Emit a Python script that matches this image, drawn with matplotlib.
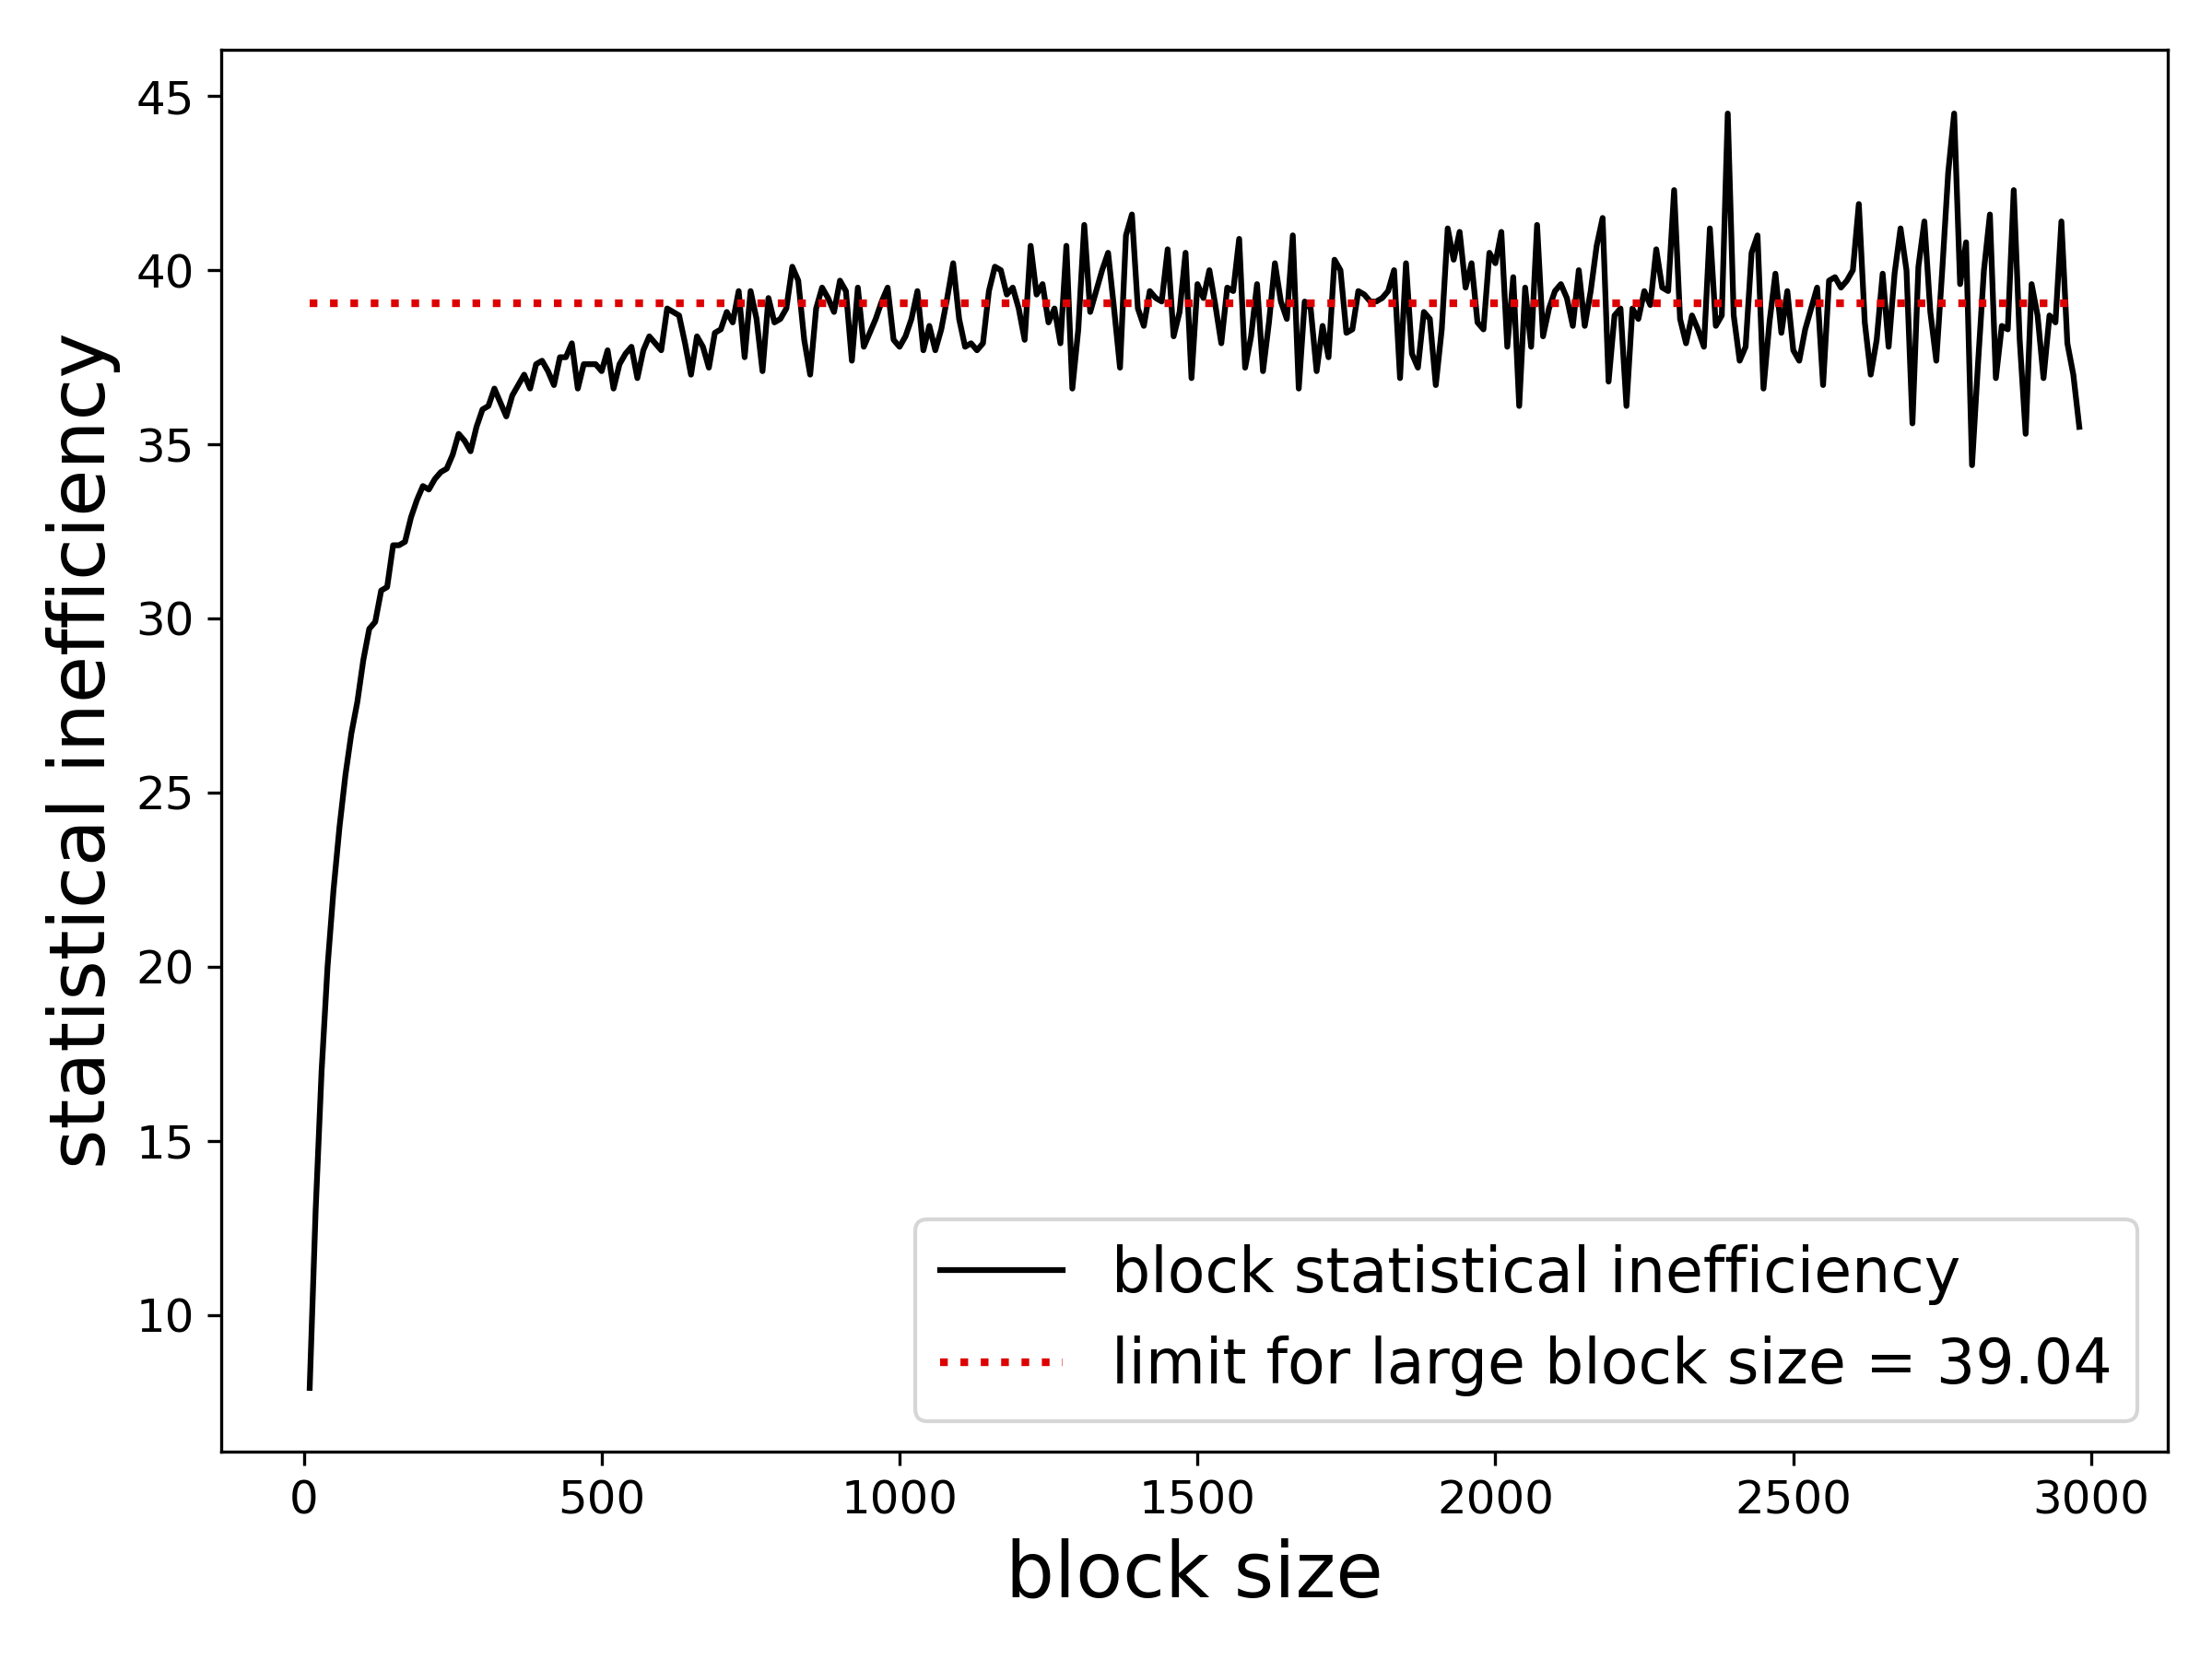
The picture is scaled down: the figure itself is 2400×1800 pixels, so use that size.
import matplotlib.pyplot as plt

# statistical inefficiency per block size (block sizes 10, 20, ...)
ineff = [
    7.9, 13.0, 17.0, 20.0, 22.2, 24.0, 25.5, 26.7, 27.6, 28.8,
    29.7, 29.9, 30.8, 30.9, 32.1, 32.1, 32.2, 32.9, 33.4, 33.8,
    33.7, 34.0, 34.2, 34.3, 34.7, 35.3, 35.1, 34.8, 35.5, 36.0,
    36.1, 36.6, 36.2, 35.8, 36.4, 36.7, 37.0, 36.6, 37.3, 37.4,
    37.1, 36.7, 37.5, 37.5, 37.9, 36.6, 37.3, 37.3, 37.3, 37.1,
    37.7, 36.6, 37.3, 37.6, 37.8, 36.9, 37.7, 38.1, 37.9, 37.7,
    38.9, 38.8, 38.7, 37.9, 37.0, 38.1, 37.8, 37.2, 38.2, 38.3,
    38.8, 38.5, 39.4, 37.5, 39.4, 38.6, 37.1, 39.2, 38.5, 38.6,
    38.9, 40.1, 39.7, 38.0, 37.0, 38.9, 39.5, 39.2, 38.8, 39.7,
    39.4, 37.4, 39.5, 37.8, 38.2, 38.6, 39.1, 39.5, 38.0, 37.8,
    38.1, 38.6, 39.4, 37.7, 38.4, 37.7, 38.3, 39.2, 40.2, 38.6,
    37.8, 37.9, 37.7, 37.9, 39.4, 40.1, 40.0, 39.3, 39.5, 38.9,
    38.0, 40.7, 39.3, 39.6, 38.5, 38.9, 37.9, 40.7, 36.6, 38.3,
    41.3, 38.8, 39.4, 40.0, 40.5, 38.9, 37.2, 41.0, 41.6, 38.9,
    38.4, 39.4, 39.2, 39.1, 40.6, 38.1, 38.8, 40.5, 36.9, 39.6,
    39.2, 40.0, 39.0, 37.9, 39.5, 39.4, 40.9, 37.2, 38.1, 39.6,
    37.1, 38.5, 40.2, 39.1, 38.6, 41.0, 36.6, 39.1, 38.9, 37.1,
    38.4, 37.5, 40.3, 40.0, 38.2, 38.3, 39.4, 39.3, 39.1, 39.1,
    39.2, 39.4, 40.0, 36.9, 40.2, 37.6, 37.2, 38.8, 38.6, 36.7,
    38.3, 41.2, 40.3, 41.1, 39.5, 40.2, 38.5, 38.3, 40.5, 40.2,
    41.1, 37.8, 39.8, 36.1, 39.5, 37.8, 41.3, 38.1, 38.9, 39.4,
    39.6, 39.2, 38.4, 40.0, 38.4, 39.4, 40.7, 41.5, 36.8, 38.7,
    38.9, 36.1, 38.9, 38.6, 39.4, 39.0, 40.6, 39.5, 39.4, 42.3,
    38.6, 37.9, 38.7, 38.3, 37.8, 41.2, 38.4, 38.7, 44.5, 38.7,
    37.4, 37.8, 40.5, 41.0, 36.6, 38.5, 39.9, 38.2, 39.4, 37.7,
    37.4, 38.3, 38.9, 39.5, 36.7, 39.7, 39.8, 39.5, 39.7, 40.0,
    41.9, 38.5, 37.0, 38.0, 39.9, 37.8, 39.9, 41.2, 40.0, 35.6,
    40.1, 41.4, 38.8, 37.4, 40.0, 42.8, 44.5, 39.6, 40.8, 34.4,
    37.3, 40.0, 41.6, 36.9, 38.4, 38.3, 42.3, 38.0, 35.3, 39.6,
    38.7, 36.9, 38.7, 38.5, 41.4, 37.9, 37.0, 35.5,
]
block_sizes = [10 * (i + 1) for i in range(len(ineff))]
limit = 39.04

fig = plt.figure(figsize=(8, 6))
ax = fig.add_subplot(1, 1, 1)
ax.plot(block_sizes, ineff, color="black", lw=1.5, label="block statistical inefficiency")
ax.plot([block_sizes[0], block_sizes[-1]], [limit, limit], color="#dd0000", ls=":", lw=2,
        label=f"limit for large block size = {limit:.2f}")
ax.set_xlabel("block size", fontsize=20)
ax.set_ylabel("statistical inefficiency", fontsize=20)
ax.tick_params(labelsize=12)
ax.legend(loc="lower right", fontsize=16)
fig.subplots_adjust(left=0.1, right=0.98, top=0.97, bottom=0.125)
fig.savefig("out.png", dpi=300)
